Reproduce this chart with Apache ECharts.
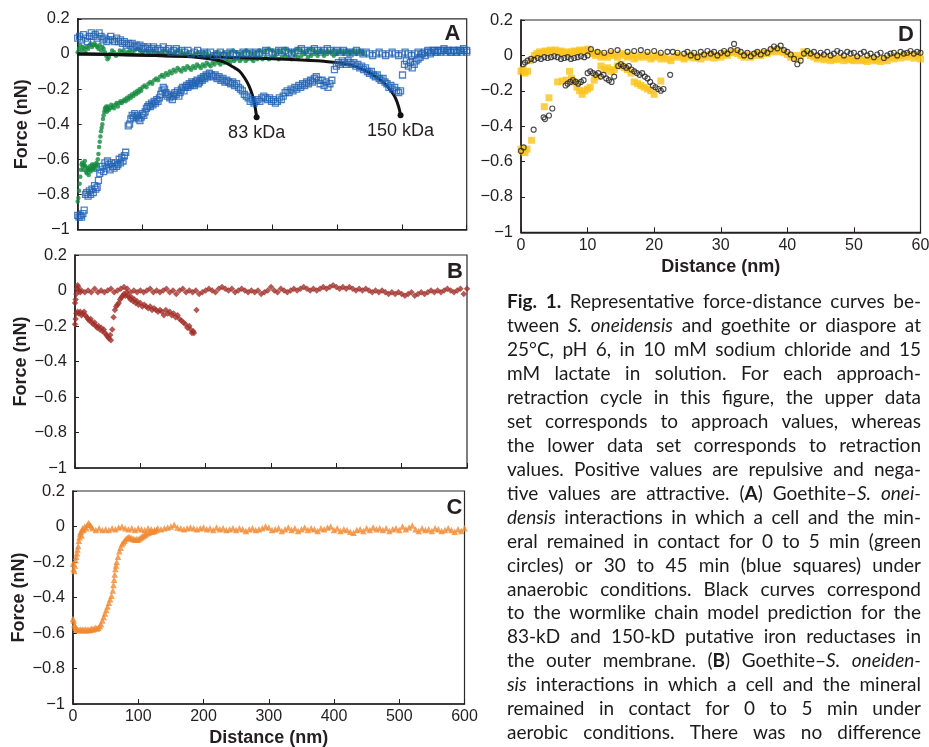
<!DOCTYPE html>
<html><head><meta charset="utf-8">
<script src="https://cdn.jsdelivr.net/npm/echarts@6/dist/echarts.min.js"></script>
<style>html,body{margin:0;padding:0;background:#fff}#c{width:929px;height:747px}</style>
</head><body><div id="c"></div><script>
// ---------------- DATA (distance nm, force nN) ----------------
const distTicksAC = [0, 600, 100];   // min, max, step (panels A-C)
const distTicksD = [0, 60, 10];      // panel D
const forceTicks = [-1, 0.2, 0.2];

// Panel A: goethite, anaerobic, 0-5 min (green circles)
const aGreenApproach = [[0,0.01],[2,0.03],[4,0.05],[6,0.02],[8,0.04],[10,0.03],[12,0.01],[14,0.04],[16,0.03],[18,0.05],[20,0.06],[22,0.04],[24,0.05],[26,0.06],[28,0.05],[30,0.04],[32,0.03],[34,0.05],[36,0.02],[38,0.04],[40,0.03],[42,0.01],[44,-0.01],[46,-0.03],[48,-0.02],[50,0.00],[53,0.02],[56,0.01],[59,-0.01],[62,0.00],[65,0.02],[68,0.01],[71,0.02],[74,0.00],[77,0.01],[80,0.02],[84,0.01],[88,0.02],[92,0.03],[96,0.02],[100,0.01],[105,0.02],[110,0.01],[115,0.02],[120,0.01],[125,0.00],[130,0.01],[135,0.02],[140,0.01],[145,0.00],[150,0.01],[155,0.02],[160,0.01],[165,0.00],[170,0.01],[175,-0.01],[180,0.00],[185,0.01],[190,0.00],[195,0.01],[200,0.00],[205,-0.01],[210,0.00],[215,0.01],[220,0.00],[225,0.01],[230,0.00],[235,0.01],[240,0.02],[245,0.01],[250,0.00],[255,0.01],[260,0.02],[265,0.01],[270,0.00],[275,0.01],[280,0.02],[285,0.01],[290,0.02],[295,0.03],[300,0.02],[305,0.01],[310,0.02],[315,0.01],[320,0.03],[325,0.02],[330,0.01],[335,0.02],[340,0.03],[345,0.02],[350,0.01],[355,0.02],[360,0.03],[365,0.02],[370,0.01],[375,0.02],[380,0.01],[385,0.02],[390,0.01],[395,0.02],[400,0.01],[405,0.02],[410,0.01],[415,0.02],[420,0.01],[425,0.02],[430,0.01],[435,0.02],[440,0.01]];
const aGreenRetract = [[0,-0.84],[1,-0.82],[2,-0.78],[3,-0.74],[4,-0.70],[5,-0.66],[6,-0.63],[7,-0.62],[8,-0.64],[9,-0.66],[10,-0.63],[11,-0.61],[12,-0.64],[13,-0.67],[14,-0.68],[15,-0.65],[16,-0.66],[17,-0.69],[18,-0.66],[19,-0.64],[20,-0.67],[21,-0.65],[22,-0.63],[23,-0.66],[24,-0.65],[25,-0.63],[26,-0.64],[27,-0.66],[28,-0.64],[29,-0.62],[30,-0.63],[31,-0.60],[32,-0.57],[33,-0.53],[34,-0.50],[35,-0.47],[36,-0.44],[37,-0.42],[38,-0.40],[39,-0.37],[40,-0.35],[41,-0.33],[42,-0.31],[43,-0.32],[44,-0.30],[45,-0.33],[46,-0.31],[47,-0.30],[48,-0.32],[50,-0.31],[52,-0.29],[54,-0.30],[56,-0.31],[58,-0.29],[60,-0.28],[62,-0.30],[64,-0.28],[66,-0.27],[68,-0.28],[70,-0.27],[72,-0.26],[74,-0.27],[76,-0.25],[78,-0.26],[80,-0.24],[82,-0.25],[84,-0.23],[86,-0.24],[88,-0.22],[90,-0.23],[92,-0.21],[94,-0.22],[96,-0.20],[98,-0.21],[100,-0.19],[103,-0.18],[106,-0.19],[109,-0.17],[112,-0.16],[115,-0.17],[118,-0.15],[121,-0.14],[124,-0.15],[127,-0.13],[130,-0.12],[133,-0.13],[136,-0.11],[139,-0.12],[142,-0.10],[145,-0.11],[148,-0.09],[151,-0.10],[154,-0.08],[157,-0.09],[160,-0.10],[163,-0.08],[166,-0.09],[169,-0.07],[172,-0.08],[175,-0.09],[178,-0.07],[181,-0.08],[184,-0.06],[187,-0.07],[190,-0.08],[193,-0.06],[196,-0.07],[199,-0.05],[202,-0.06],[205,-0.07],[208,-0.05],[211,-0.06],[214,-0.04],[217,-0.05],[220,-0.06],[223,-0.04],[226,-0.05],[229,-0.03],[232,-0.04],[235,-0.05],[238,-0.03],[241,-0.04],[244,-0.03],[247,-0.02],[250,-0.04],[253,-0.03],[256,-0.02],[259,-0.04],[262,-0.03],[265,-0.02],[268,-0.03],[271,-0.04],[274,-0.02],[277,-0.03],[280,-0.02],[285,-0.03],[290,-0.02],[295,-0.03],[300,-0.02],[305,-0.01],[310,-0.03],[315,-0.02],[320,-0.01],[325,-0.02],[330,-0.03],[335,-0.01],[340,-0.02],[345,-0.01],[350,0.00],[355,-0.02],[360,-0.01],[365,0.00],[370,-0.01],[375,0.01],[380,-0.01],[385,0.00],[390,0.01],[395,-0.01],[400,0.00],[405,0.01],[410,0.00],[415,0.01],[420,0.00],[425,0.01],[430,0.00],[435,0.01],[440,0.00]];
// Panel A: goethite, anaerobic, 30-45 min (blue squares)
const aBlueApproach = [[0,0.09],[3,0.10],[6,0.08],[9,0.11],[12,0.09],[15,0.07],[18,0.10],[21,0.12],[24,0.10],[27,0.11],[30,0.09],[33,0.12],[36,0.10],[39,0.08],[42,0.09],[45,0.07],[48,0.08],[51,0.10],[54,0.08],[57,0.07],[60,0.09],[63,0.07],[66,0.08],[69,0.06],[72,0.07],[75,0.05],[78,0.06],[81,0.05],[84,0.06],[87,0.04],[90,0.05],[93,0.04],[96,0.05],[99,0.03],[102,0.04],[105,0.03],[108,0.04],[111,0.02],[114,0.03],[117,0.04],[120,0.02],[124,0.03],[128,0.02],[132,0.04],[136,0.02],[140,0.03],[144,0.01],[148,0.02],[152,0.03],[156,0.01],[160,0.02],[165,0.01],[170,0.02],[175,0.00],[180,0.01],[185,0.02],[190,0.00],[195,0.01],[200,0.00],[205,0.01],[210,-0.01],[215,0.00],[220,0.01],[225,-0.01],[230,0.00],[235,0.01],[240,0.00],[245,-0.01],[250,0.00],[255,0.01],[260,0.00],[265,0.01],[270,0.00],[275,0.01],[280,0.00],[285,0.01],[290,0.02],[295,0.01],[300,0.00],[305,0.01],[310,0.02],[315,0.01],[320,0.02],[325,0.01],[330,0.00],[335,0.01],[340,0.02],[345,0.03],[350,0.02],[355,0.01],[360,0.02],[365,0.03],[370,0.02],[375,0.01],[380,0.02],[385,0.03],[390,0.02],[395,0.01],[400,0.02],[405,0.01],[410,0.02],[415,0.01],[420,0.00],[425,0.01],[430,0.02],[435,0.01],[440,0.00],[445,0.01],[450,0.00],[455,-0.01],[460,0.00],[465,0.01],[470,0.00],[475,-0.01],[480,0.00],[485,0.01],[490,0.00],[495,-0.01],[500,0.00],[505,0.01],[510,0.00],[515,-0.01],[520,0.00],[525,0.01],[530,0.00],[535,0.01],[540,0.02],[545,0.01],[550,0.02],[555,0.01],[560,0.02],[565,0.03],[570,0.02],[575,0.01],[580,0.02],[585,0.01],[590,0.02],[595,0.03],[600,0.02]];
const aBlueRetract = [[0,-0.92],[2,-0.93],[4,-0.92],[6,-0.93],[8,-0.91],[10,-0.89],[12,-0.80],[14,-0.79],[16,-0.81],[18,-0.78],[20,-0.80],[22,-0.77],[24,-0.79],[26,-0.75],[28,-0.77],[30,-0.76],[32,-0.72],[34,-0.68],[36,-0.66],[38,-0.64],[40,-0.67],[42,-0.62],[44,-0.65],[46,-0.61],[48,-0.63],[50,-0.66],[52,-0.62],[54,-0.64],[56,-0.65],[58,-0.62],[60,-0.64],[62,-0.63],[64,-0.60],[66,-0.62],[68,-0.59],[70,-0.61],[72,-0.58],[74,-0.56],[78,-0.41],[80,-0.40],[82,-0.37],[84,-0.35],[86,-0.36],[88,-0.34],[90,-0.36],[92,-0.35],[94,-0.37],[96,-0.38],[98,-0.36],[100,-0.34],[102,-0.35],[104,-0.33],[106,-0.31],[108,-0.30],[110,-0.29],[112,-0.30],[114,-0.28],[116,-0.29],[118,-0.27],[120,-0.28],[122,-0.26],[124,-0.27],[126,-0.25],[128,-0.23],[130,-0.21],[132,-0.19],[134,-0.20],[136,-0.22],[138,-0.24],[140,-0.23],[142,-0.25],[144,-0.24],[146,-0.26],[148,-0.24],[150,-0.22],[152,-0.23],[154,-0.21],[156,-0.24],[158,-0.22],[160,-0.20],[162,-0.19],[164,-0.21],[166,-0.19],[168,-0.18],[170,-0.19],[172,-0.17],[174,-0.18],[176,-0.16],[178,-0.17],[180,-0.18],[182,-0.16],[184,-0.15],[186,-0.17],[188,-0.16],[190,-0.14],[192,-0.15],[194,-0.13],[196,-0.14],[198,-0.12],[200,-0.13],[203,-0.11],[206,-0.12],[209,-0.13],[212,-0.12],[215,-0.14],[218,-0.13],[221,-0.15],[224,-0.14],[227,-0.16],[230,-0.15],[233,-0.16],[236,-0.17],[239,-0.16],[242,-0.18],[245,-0.17],[248,-0.19],[251,-0.20],[254,-0.21],[257,-0.23],[260,-0.24],[263,-0.25],[266,-0.27],[269,-0.26],[272,-0.28],[275,-0.27],[278,-0.26],[281,-0.27],[284,-0.25],[287,-0.24],[290,-0.25],[293,-0.26],[296,-0.25],[299,-0.27],[302,-0.26],[305,-0.28],[308,-0.27],[311,-0.25],[314,-0.26],[317,-0.24],[320,-0.22],[323,-0.21],[326,-0.22],[329,-0.20],[332,-0.21],[335,-0.19],[338,-0.20],[341,-0.18],[344,-0.19],[347,-0.17],[350,-0.18],[353,-0.16],[356,-0.17],[359,-0.15],[362,-0.16],[365,-0.14],[368,-0.13],[371,-0.15],[374,-0.17],[377,-0.15],[380,-0.18],[383,-0.16],[386,-0.19],[389,-0.17],[392,-0.15],[396,-0.09],[399,-0.07],[402,-0.05],[405,-0.06],[408,-0.04],[411,-0.05],[414,-0.06],[417,-0.04],[420,-0.05],[423,-0.06],[426,-0.05],[429,-0.07],[432,-0.06],[435,-0.08],[438,-0.07],[441,-0.09],[444,-0.08],[447,-0.10],[450,-0.11],[453,-0.10],[456,-0.12],[459,-0.13],[462,-0.12],[465,-0.14],[468,-0.15],[471,-0.14],[474,-0.16],[477,-0.17],[480,-0.19],[483,-0.18],[486,-0.20],[489,-0.19],[492,-0.21],[495,-0.22],[498,-0.21],[501,-0.12],[504,-0.06],[507,-0.04],[510,-0.07],[513,-0.05],[516,-0.08],[519,-0.06],[522,-0.04],[525,-0.03],[528,-0.02],[532,0.00],[536,-0.01],[540,0.01],[544,0.00],[548,0.02],[552,0.01],[556,0.02],[560,0.01],[564,0.02],[568,0.01],[572,0.02],[576,0.01],[580,0.02],[584,0.01],[588,0.02],[592,0.01],[596,0.02],[600,0.01]];
// Panel A: wormlike chain predictions (black curves)
const aWlc83 = [[0,0.0],[40,-0.002],[80,-0.005],[120,-0.009],[160,-0.014],[190,-0.022],[210,-0.032],[225,-0.045],[240,-0.075],[250,-0.10],[258,-0.14],[264,-0.18],[269,-0.23],[273,-0.29],[276,-0.36]];
const aWlc150 = [[0,0.0],[80,-0.006],[160,-0.012],[240,-0.02],[320,-0.03],[380,-0.042],[420,-0.062],[446,-0.10],[462,-0.135],[474,-0.17],[484,-0.215],[490,-0.25],[495,-0.30],[498,-0.35]];
const aWlcLabels = ['83 kDa', '150 kDa'];

// Panel B: goethite, aerobic (dark red)
const bApproach = [[0,-0.07],[1,-0.05],[2,-0.02],[3,0.01],[4,0.03],[5,0.02],[6,0.00],[8,-0.01],[10,0.00],[15,-0.01],[20,0.00],[25,-0.01],[30,0.01],[35,-0.01],[40,0.00],[45,-0.01],[50,0.00],[55,0.01],[60,-0.01],[65,0.00],[70,0.01],[75,0.02],[80,0.01],[85,-0.01],[90,0.00],[95,-0.01],[100,0.00],[105,-0.01],[110,0.00],[115,0.01],[120,-0.01],[125,0.00],[130,-0.01],[135,0.00],[140,0.01],[145,-0.01],[150,0.00],[155,-0.02],[160,0.00],[165,0.01],[170,-0.01],[175,0.00],[180,-0.01],[185,0.00],[190,-0.02],[195,-0.01],[200,0.00],[205,0.01],[210,0.00],[215,-0.01],[220,0.01],[225,0.02],[230,0.01],[235,0.00],[240,0.01],[245,-0.01],[250,0.00],[255,0.01],[260,0.00],[265,-0.01],[270,0.00],[275,-0.01],[280,0.00],[285,-0.02],[290,-0.01],[295,0.00],[300,0.02],[305,0.00],[310,-0.01],[315,0.01],[320,0.00],[325,-0.01],[330,0.00],[335,0.01],[340,0.00],[345,0.01],[350,0.02],[355,0.01],[360,0.00],[365,0.01],[370,0.00],[375,0.01],[380,0.02],[385,0.01],[390,0.02],[395,0.03],[400,0.02],[405,0.01],[410,0.02],[415,0.01],[420,0.02],[425,0.01],[430,0.00],[435,0.01],[440,0.00],[445,0.01],[450,0.00],[455,-0.01],[460,0.00],[465,-0.01],[470,0.00],[475,-0.01],[480,-0.02],[485,-0.01],[490,-0.02],[495,-0.01],[500,-0.02],[505,-0.03],[510,-0.02],[515,-0.01],[520,-0.03],[525,-0.02],[530,-0.01],[535,-0.02],[540,-0.01],[545,0.00],[550,-0.01],[555,0.00],[560,-0.01],[565,0.00],[570,0.01],[575,0.00],[580,-0.01],[585,0.00],[590,0.01],[595,-0.02],[600,0.01]];
const bRetract = [[0,-0.19],[1,-0.16],[2,-0.13],[4,-0.12],[6,-0.13],[8,-0.12],[10,-0.14],[12,-0.13],[14,-0.12],[16,-0.14],[18,-0.15],[20,-0.16],[22,-0.17],[24,-0.16],[26,-0.18],[28,-0.19],[30,-0.18],[32,-0.20],[34,-0.21],[36,-0.20],[38,-0.22],[40,-0.21],[42,-0.23],[44,-0.22],[46,-0.24],[48,-0.25],[50,-0.26],[52,-0.27],[54,-0.25],[55,-0.28],[57,-0.22],[59,-0.15],[61,-0.11],[63,-0.09],[65,-0.08],[67,-0.07],[69,-0.05],[71,-0.04],[73,-0.03],[75,-0.02],[77,-0.03],[79,-0.01],[81,-0.03],[83,-0.04],[85,-0.05],[87,-0.04],[89,-0.06],[91,-0.05],[93,-0.07],[95,-0.06],[97,-0.08],[100,-0.07],[103,-0.09],[106,-0.08],[109,-0.09],[112,-0.10],[115,-0.09],[118,-0.11],[121,-0.10],[124,-0.11],[127,-0.12],[130,-0.11],[133,-0.12],[136,-0.14],[139,-0.11],[142,-0.13],[145,-0.12],[148,-0.14],[151,-0.13],[154,-0.15],[157,-0.14],[160,-0.16],[163,-0.17],[166,-0.18],[169,-0.19],[172,-0.21],[175,-0.20],[177,-0.22],[179,-0.24],[181,-0.23],[182,-0.24],[186,-0.11]];

// Panel C: diaspore (orange triangles)
const cApproach = [[0,-0.21],[1,-0.24],[2,-0.25],[3,-0.22],[4,-0.19],[5,-0.17],[6,-0.15],[7,-0.13],[8,-0.11],[9,-0.08],[10,-0.06],[11,-0.04],[12,-0.03],[13,-0.05],[14,-0.02],[15,-0.01],[16,-0.02],[18,0.00],[20,-0.01],[22,0.01],[24,0.02],[26,0.01],[28,0.00],[30,-0.01],[35,-0.02],[40,-0.01],[45,-0.02],[50,-0.015],[55,-0.02],[60,-0.01],[65,-0.015],[70,-0.005],[75,0.00],[80,-0.01],[85,-0.015],[90,-0.01],[95,-0.02],[100,-0.01],[105,-0.015],[110,-0.02],[115,-0.01],[120,-0.015],[125,-0.02],[130,-0.01],[135,-0.015],[140,-0.01],[145,-0.005],[150,0.00],[155,0.01],[160,-0.005],[165,-0.01],[170,-0.015],[175,-0.01],[180,-0.005],[185,-0.01],[190,-0.015],[195,-0.01],[200,-0.005],[205,-0.015],[210,-0.01],[215,-0.02],[220,-0.005],[225,-0.015],[230,-0.01],[235,-0.02],[240,-0.015],[245,-0.01],[250,-0.02],[255,-0.01],[260,-0.015],[265,-0.025],[270,-0.015],[275,-0.01],[280,-0.02],[285,-0.015],[290,-0.01],[295,0.00],[300,-0.005],[305,-0.02],[310,-0.015],[315,-0.01],[320,-0.025],[325,-0.015],[330,-0.005],[335,-0.02],[340,-0.01],[345,-0.025],[350,-0.015],[355,-0.005],[360,-0.02],[365,-0.01],[370,-0.015],[375,-0.025],[380,-0.01],[385,-0.015],[390,-0.005],[395,0.00],[400,-0.02],[405,-0.01],[410,-0.025],[415,-0.015],[420,-0.02],[425,-0.03],[430,-0.035],[435,-0.02],[440,-0.015],[445,-0.025],[450,-0.01],[455,-0.02],[460,-0.005],[465,-0.015],[470,-0.01],[475,-0.02],[480,-0.01],[485,-0.025],[490,-0.015],[495,-0.01],[500,-0.02],[505,0.00],[510,-0.015],[515,-0.005],[520,0.005],[525,-0.015],[530,-0.025],[535,-0.01],[540,-0.02],[545,-0.015],[550,-0.025],[555,-0.01],[560,-0.015],[565,-0.025],[570,-0.02],[575,-0.01],[580,-0.02],[585,-0.03],[590,-0.015],[595,-0.025],[600,-0.01]];
const cRetract = [[0,-0.52],[1,-0.53],[2,-0.55],[3,-0.56],[4,-0.57],[5,-0.58],[7,-0.58],[9,-0.585],[11,-0.58],[13,-0.585],[15,-0.58],[17,-0.585],[19,-0.58],[21,-0.585],[23,-0.58],[25,-0.585],[27,-0.58],[29,-0.575],[31,-0.58],[33,-0.575],[35,-0.57],[37,-0.575],[39,-0.57],[41,-0.56],[43,-0.55],[45,-0.53],[47,-0.51],[49,-0.49],[51,-0.47],[53,-0.45],[55,-0.43],[57,-0.41],[59,-0.39],[61,-0.36],[62,-0.33],[63,-0.30],[64,-0.27],[65,-0.24],[66,-0.22],[67,-0.20],[69,-0.17],[71,-0.14],[73,-0.12],[75,-0.10],[77,-0.09],[79,-0.08],[81,-0.07],[83,-0.065],[85,-0.06],[87,-0.06],[89,-0.065],[91,-0.07],[93,-0.07],[95,-0.075],[97,-0.07],[99,-0.075],[101,-0.07],[103,-0.065],[105,-0.06],[107,-0.055],[109,-0.05],[111,-0.045],[113,-0.04],[116,-0.035],[119,-0.03],[122,-0.03],[125,-0.025],[128,-0.02]];

// Panel D: short-range curves (yellow squares, open black circles)
const dYellowApproach = [[0,-0.09],[0.3,-0.08],[0.6,-0.10],[1,-0.09],[1.4,-0.03],[2,0.00],[2.4,0.01],[2.8,0.02],[3.2,0.015],[3.6,0.025],[4,0.02],[4.4,0.03],[4.8,0.025],[5.2,0.03],[5.6,0.02],[6,0.025],[6.4,0.015],[6.8,0.02],[7.2,0.01],[7.6,0.02],[8,0.025],[8.4,0.02],[8.8,0.03],[9.2,0.025],[9.6,0.03],[10,0.035],[10.4,0.02],[10.8,0.01],[11.2,0.00],[11.6,0.01],[12,-0.01],[12.5,0.00],[13,-0.01],[13.5,0.01],[14,0.00],[14.5,-0.01],[15,0.01],[15.5,0.00],[16,-0.01],[16.5,0.00],[17,-0.02],[17.5,-0.01],[18,0.00],[18.5,-0.01],[19,0.00],[19.5,-0.02],[20,-0.01],[20.5,0.00],[21,-0.02],[21.5,-0.01],[22,-0.02],[22.5,-0.03],[23,-0.01],[23.5,0.00],[24,-0.01],[24.5,-0.02],[25,-0.01],[25.5,0.00],[26,-0.015],[26.5,-0.005],[27,-0.02],[27.5,0.00],[28,-0.01],[28.5,0.005],[29,-0.015],[29.5,0.00],[30,-0.01],[30.5,0.01],[31,0.00],[31.5,0.015],[32,0.02],[32.5,0.01],[33,0.00],[33.5,-0.01],[34,0.005],[34.5,-0.01],[35,0.00],[35.5,0.01],[36,0.00],[36.5,0.015],[37,0.01],[37.5,0.02],[38,0.03],[38.5,0.02],[39,0.03],[39.5,0.015],[40,0.005],[40.5,-0.01],[41,0.00],[41.5,-0.02],[42,0.00],[42.5,0.02],[43,0.01],[43.5,0.00],[44,-0.01],[44.5,-0.02],[45,-0.01],[45.5,-0.025],[46,-0.015],[46.5,-0.03],[47,-0.02],[47.5,-0.025],[48,-0.015],[48.5,-0.03],[49,-0.02],[49.5,-0.025],[50,-0.03],[50.5,-0.02],[51,-0.03],[51.5,-0.025],[52,-0.035],[52.5,-0.02],[53,-0.03],[53.5,-0.025],[54,-0.035],[54.5,-0.02],[55,-0.03],[55.5,-0.01],[56,-0.02],[56.5,-0.005],[57,-0.015],[57.5,0.00],[58,-0.01],[58.5,0.005],[59,-0.015],[59.5,0.00],[60,-0.02]];
const dYellowRetract = [[0,-0.53],[0.3,-0.54],[0.6,-0.55],[0.9,-0.53],[1.6,-0.48],[3.5,-0.29],[4.2,-0.24],[5.5,-0.15],[6.2,-0.145],[6.8,-0.14],[7.3,-0.09],[7.6,-0.13],[8,-0.15],[8.4,-0.18],[8.8,-0.20],[9.2,-0.22],[9.6,-0.20],[10,-0.19],[10.4,-0.18],[11,-0.14],[11.5,-0.12],[12,-0.06],[12.5,-0.08],[13,-0.07],[13.5,-0.09],[14,-0.08],[14.5,-0.06],[15,-0.05],[15.5,-0.07],[16,-0.08],[16.5,-0.10],[17,-0.15],[17.5,-0.16],[18,-0.17],[18.5,-0.18],[19,-0.19],[19.5,-0.20],[20,-0.22],[21,-0.145]];
const dCircleApproach = [[0.3,-0.05],[0.6,-0.04],[1,-0.03],[1.5,-0.02],[2,-0.025],[2.5,-0.015],[3,-0.02],[3.5,-0.01],[4,-0.015],[4.5,-0.01],[5,-0.005],[5.5,-0.01],[6,-0.02],[6.5,-0.015],[7,-0.01],[7.5,-0.02],[8,-0.015],[8.5,-0.01],[9,-0.005],[9.5,-0.01],[10,0.00],[10.5,0.035],[11.5,0.02],[12.5,0.015],[13.5,0.025],[14.5,0.03],[16,0.02],[17,0.025],[18,0.03],[19,0.02],[20,0.025],[21,0.015],[22,0.02],[22.8,0.02],[23.5,0.015],[24.5,0.01],[25,0.02],[25.5,0.00],[26,0.015],[26.5,-0.01],[27,0.02],[27.5,0.005],[28,0.025],[28.5,0.01],[29,0.02],[29.5,0.00],[30,0.015],[30.5,0.025],[31,0.01],[31.5,0.03],[32,0.065],[32.5,0.03],[33,0.02],[33.5,0.00],[34,0.015],[34.5,-0.005],[35,0.01],[35.5,0.02],[36,0.005],[36.5,0.025],[37,0.015],[37.5,0.035],[38,0.05],[38.5,0.04],[39,0.055],[39.5,0.03],[40,0.02],[40.5,0.005],[41,-0.02],[41.5,-0.05],[42,-0.03],[42.5,0.01],[43,0.025],[43.5,0.01],[44,0.02],[44.5,0.00],[45,0.015],[45.5,0.005],[46,0.02],[46.5,0.00],[47,0.01],[47.5,0.025],[48,0.015],[48.5,0.00],[49,0.02],[49.5,0.01],[50,0.015],[50.5,-0.005],[51,0.01],[51.5,0.02],[52,0.00],[52.5,0.01],[53,-0.01],[53.5,0.005],[54,0.015],[54.5,-0.015],[55,0.00],[55.5,0.01],[56,0.015],[56.5,0.00],[57,0.02],[57.5,0.01],[58,0.015],[58.5,0.025],[59,0.01],[59.5,0.02],[60,0.015]];
const dCircleRetract = [[0,-0.54],[0.4,-0.52],[1.9,-0.42],[3.4,-0.35],[3.6,-0.36],[4.2,-0.34],[4.7,-0.30],[6.7,-0.17],[7,-0.16],[7.4,-0.15],[7.8,-0.14],[8.2,-0.15],[8.6,-0.16],[9,-0.15],[9.4,-0.14],[10,-0.10],[10.4,-0.09],[10.8,-0.10],[11.2,-0.11],[11.6,-0.10],[12,-0.12],[12.4,-0.11],[12.8,-0.13],[13.2,-0.14],[13.6,-0.15],[14,-0.12],[14.6,-0.06],[15,-0.05],[15.4,-0.06],[15.8,-0.07],[16.2,-0.06],[16.6,-0.08],[17,-0.09],[17.4,-0.10],[17.8,-0.11],[18.2,-0.10],[18.6,-0.12],[19,-0.13],[19.4,-0.15],[19.8,-0.17],[20.2,-0.18],[20.6,-0.19],[21,-0.20],[21.4,-0.19],[22.4,-0.11]];

const panelLetters = ['A', 'B', 'C', 'D'];
const axisTitles = {x: 'Distance (nm)', y: 'Force (nN)'};
const captionLines = [
 "^Fig. 1.^ Representative force-distance curves be-",
 "tween *S. oneidensis* and goethite or diaspore at",
 "25°C, pH 6, in 10 mM sodium chloride and 15",
 "mM lactate in solution. For each approach-",
 "retraction cycle in this figure, the upper data",
 "set corresponds to approach values, whereas",
 "the lower data set corresponds to retraction",
 "values. Positive values are repulsive and nega-",
 "tive values are attractive. (^A^) Goethite–*S. onei-*",
 "*densis* interactions in which a cell and the min-",
 "eral remained in contact for 0 to 5 min (green",
 "circles) or 30 to 45 min (blue squares) under",
 "anaerobic conditions. Black curves correspond",
 "to the wormlike chain model prediction for the",
 "83-kD and 150-kD putative iron reductases in",
 "the outer membrane. (^B^) Goethite–*S. oneiden-*",
 "*sis* interactions in which a cell and the mineral",
 "remained in contact for 0 to 5 min under",
 "aerobic conditions. There was no difference"
];

// ---------------- LAYOUT / STYLE ----------------
const INK = '#231f20';
const AX_FONT = '"Liberation Sans", Arial, Helvetica, sans-serif';
const grids = [
  {left: 77.7, top: 18.8, width: 389, height: 210.7},
  {left: 75, top: 255, width: 392, height: 213},
  {left: 73, top: 491, width: 391.5, height: 213},
  {left: 521, top: 20, width: 399.5, height: 212.3}
];
const letterPos = [[452.5, 34], [455, 272], [454.5, 507.5], [906, 35]];
const yNameGap = [47, 44.5, 43];

function fmtForce(v) {
  const r = Math.round(v * 10) / 10;
  if (r === 0) return '0';
  return String(r).replace('-', '\u2212');
}

const chart = echarts.init(document.getElementById('c'), null, {renderer: 'canvas', width: 929, height: 747});

const xAxes = grids.map((g, i) => {
  const t = i === 3 ? distTicksD : distTicksAC;
  const showLab = (i === 2 || i === 3);
  return {
    type: 'value', gridIndex: i, min: t[0], max: t[1], interval: t[2],
    name: showLab ? axisTitles.x : '', nameLocation: 'middle', nameGap: 25.5,
    nameTextStyle: {fontFamily: AX_FONT, fontSize: 18, fontWeight: 'bold', color: INK},
    axisLine: {show: true, onZero: false, lineStyle: {color: INK, width: 1.6}},
    axisTick: {show: true, inside: true, length: 5, lineStyle: {color: INK, width: 1}},
    axisLabel: {show: showLab, margin: 5, fontFamily: AX_FONT, fontSize: 16, color: INK,
      showMinLabel: true, showMaxLabel: true},
    splitLine: {show: false}
  };
});
const yAxes = grids.map((g, i) => ({
  type: 'value', gridIndex: i, min: forceTicks[0], max: forceTicks[1], interval: forceTicks[2],
  name: i < 3 ? axisTitles.y : '', nameLocation: 'middle', nameGap: i < 3 ? yNameGap[i] : 0,
  nameTextStyle: {fontFamily: AX_FONT, fontSize: 18, fontWeight: 'bold', color: INK},
  axisLine: {show: true, onZero: false, lineStyle: {color: INK, width: 1.6}},
  axisTick: {show: true, inside: true, length: 4, lineStyle: {color: INK, width: 1}},
  axisLabel: {show: true, margin: 8, fontFamily: AX_FONT, fontSize: 16.5, color: INK, formatter: fmtForce,
    showMinLabel: true, showMaxLabel: true},
  splitLine: {show: false}
}));

function scatter(data, gi, symbol, size, itemStyle, z) {
  return {type: 'scatter', xAxisIndex: gi, yAxisIndex: gi, data: data, symbol: symbol,
    symbolSize: size, itemStyle: itemStyle, z: z || 2, silent: true, animation: false, clip: false};
}
function wlc(data, label) {
  const last = data.length - 1;
  return {type: 'line', xAxisIndex: 0, yAxisIndex: 0, smooth: 0.35, z: 3, silent: true, animation: false,
    showSymbol: true, showAllSymbol: true, symbol: 'circle',
    symbolSize: (v, p) => p.dataIndex === last ? 6 : 0,
    lineStyle: {color: '#111', width: 3}, itemStyle: {color: '#111'},
    data: data.map((d, k) => k === last ? {value: d, label: {show: true, position: 'bottom', distance: 4,
      formatter: label, fontFamily: AX_FONT, fontSize: 18, color: INK}} : d)};
}

const green = {color: '#13893d'};
const blue = {color: 'rgba(255,255,255,0)', borderColor: '#1f62b3', borderWidth: 1.3};
const red = {color: '#a22f29'};
const orange = {color: '#f08a32'};
const yellow = {color: '#fbc31c'};
const ring = {color: 'rgba(255,255,255,0)', borderColor: '#222', borderWidth: 1.15};

const series = [
  scatter(aGreenApproach, 0, 'circle', 4.5, green),
  scatter(aGreenRetract, 0, 'circle', 4.5, green),
  wlc(aWlc83, aWlcLabels[0]),
  wlc(aWlc150, aWlcLabels[1]),
  scatter(aBlueApproach, 0, 'rect', 6, blue, 4),
  scatter(aBlueRetract, 0, 'rect', 6, blue, 4),
  scatter(bApproach, 1, 'diamond', 6.5, red),
  scatter(bRetract, 1, 'diamond', 6.5, red),
  scatter(cApproach, 2, 'triangle', 6.5, orange),
  scatter(cRetract, 2, 'triangle', 6.5, orange),
  scatter(dYellowApproach, 3, 'rect', 7, yellow),
  scatter(dYellowRetract, 3, 'rect', 7, yellow),
  scatter(dCircleApproach, 3, 'circle', 5, ring, 4),
  scatter(dCircleRetract, 3, 'circle', 5, ring, 4)
];

// ---------------- caption (justified) ----------------
const CAP_FAMILY = 'Lato, "Open Sans", sans-serif';
const CAP_SIZE = 19;
const capLeft = 507, capRight = 921, capTop = 302, capStep = 23.95;
const mctx = document.createElement('canvas').getContext('2d');
function fontStr(r) { return (r.i ? 'italic ' : '') + (r.b ? 'bold ' : '') + CAP_SIZE + 'px ' + CAP_FAMILY; }
function parseLine(line, st) {
  const words = []; let runs = []; let cur = '';
  const flush = () => { if (cur) { runs.push({t: cur, i: st.i, b: st.b}); cur = ''; } };
  for (const ch of line) {
    if (ch === '*') { flush(); st.i = !st.i; }
    else if (ch === '^') { flush(); st.b = !st.b; }
    else if (ch === ' ') { flush(); if (runs.length) words.push(runs); runs = []; }
    else cur += ch;
  }
  flush(); if (runs.length) words.push(runs);
  return words;
}
const capElements = [];
const st = {i: false, b: false};
captionLines.forEach((line, li) => {
  const words = parseLine(line, st);
  words.forEach(w => w.forEach(r => { mctx.font = fontStr(r); r.w = mctx.measureText(r.t).width; }));
  const ww = words.map(w => w.reduce((s, r) => s + r.w, 0));
  const total = ww.reduce((a, b) => a + b, 0);
  const W = capRight - capLeft;
  let gap = words.length > 1 ? (W - total) / (words.length - 1) : 0;
  let sx = 1;
  if (gap < 3.5) { gap = 3.5; sx = W / (total + 3.5 * (words.length - 1)); }
  const children = [];
  let x = 0;
  words.forEach((w, wi) => {
    w.forEach(r => {
      children.push({type: 'text', x: x, y: 0, silent: true, style: {text: r.t, fill: '#1d1a1b',
        fontFamily: CAP_FAMILY, fontSize: CAP_SIZE, fontStyle: r.i ? 'italic' : 'normal',
        fontWeight: r.b ? 'bold' : 'normal', align: 'left', verticalAlign: 'middle'}});
      x += r.w;
    });
    x += gap;
  });
  capElements.push({type: 'group', x: capLeft, y: capTop + li * capStep, scaleX: sx, children: children});
});

const letterElements = panelLetters.map((L, i) => ({type: 'text', x: letterPos[i][0], y: letterPos[i][1], silent: true,
  style: {text: L, fill: INK, fontFamily: AX_FONT, fontSize: 22, fontWeight: 'bold', align: 'center', verticalAlign: 'middle'}}));

chart.setOption({
  backgroundColor: '#fff',
  animation: false,
  grid: grids.map(g => Object.assign({show: true, borderColor: '#2a2a2a', borderWidth: 1.2,
    backgroundColor: 'rgba(0,0,0,0)', containLabel: false, outerBoundsMode: 'none'}, g)),
  xAxis: xAxes,
  yAxis: yAxes,
  series: series,
  graphic: {elements: letterElements.concat(capElements)}
});
</script></body></html>
